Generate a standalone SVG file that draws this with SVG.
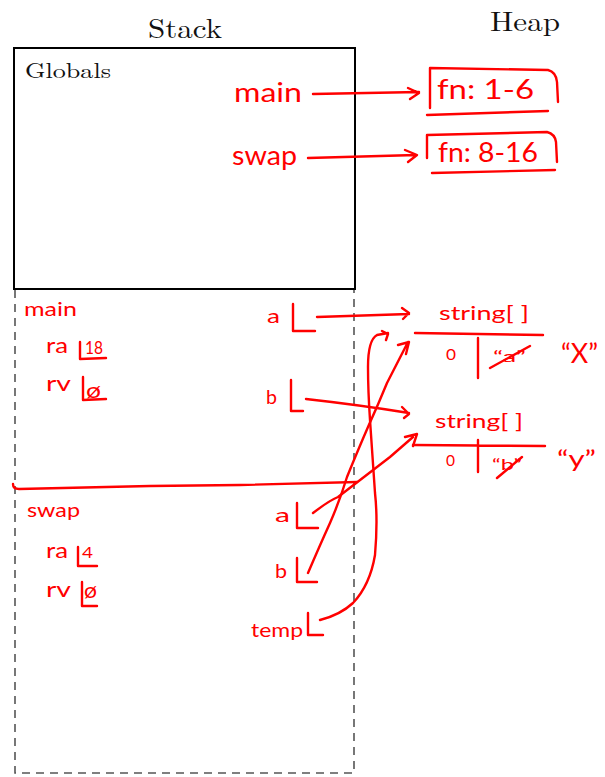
<svg xmlns="http://www.w3.org/2000/svg" width="605" height="777" viewBox="0 0 605 777">
<style>
.ttl{font-family:"Latin Modern Roman","Liberation Serif",serif;fill:#111;}
.h{font-family:"Lato","Liberation Sans",sans-serif;fill:#ff0000;}
.r{fill:none;stroke:#ff0000;stroke-width:2.4;stroke-linecap:round;stroke-linejoin:round;}
.dash{fill:none;stroke:#555;stroke-width:1.6;stroke-dasharray:8 6;}
</style>
<rect width="605" height="777" fill="#fff"/>
<g id="titles">
<text class="ttl" x="148" y="38" font-size="27" textLength="74" lengthAdjust="spacingAndGlyphs">Stack</text>
<text class="ttl" x="490" y="31" font-size="27" textLength="70" lengthAdjust="spacingAndGlyphs">Heap</text>
</g>
<g id="stack-region">
<path class="dash" d="M15,290 L15,773 L354,773 L354,290"/>
</g>
<g id="globals">
<rect x="14" y="48" width="341" height="241" fill="none" stroke="#000" stroke-width="2"/>
<text class="ttl" x="25" y="78" font-size="21" textLength="86" lengthAdjust="spacingAndGlyphs">Globals</text>
<text class="h" x="234" y="102" font-size="27" textLength="68" lengthAdjust="spacingAndGlyphs">main</text>
<text class="h" x="232" y="165" font-size="27" textLength="65" lengthAdjust="spacingAndGlyphs">swap</text>
</g>
<g id="fn-main">
<path class="r" d="M430,68 L430,108 M430,68 L548,70 Q556,72 557,82 L558,102 M427,115 L548,111"/>
<text class="h" x="437" y="99" font-size="27" textLength="97" lengthAdjust="spacingAndGlyphs">fn: 1-6</text>
</g>
<g id="fn-swap">
<path class="r" d="M427,135 L427,158 M427,135 L547,132 Q555,134 556,142 L557,162 M432,173 L555,170"/>
<text class="h" x="438" y="162" font-size="27" textLength="100" lengthAdjust="spacingAndGlyphs">fn: 8-16</text>
</g>
<g id="frame-main">
<text class="h" x="24" y="316" font-size="19" textLength="53" lengthAdjust="spacingAndGlyphs">main</text>
<text class="h" x="46" y="353" font-size="21" textLength="22" lengthAdjust="spacingAndGlyphs">ra</text>
<path class="r" d="M80,342 L80,359 L106,358"/>
<text class="h" x="85" y="354" font-size="18" textLength="18" lengthAdjust="spacingAndGlyphs">18</text>
<text class="h" x="46" y="391" font-size="21" textLength="25" lengthAdjust="spacingAndGlyphs">rv</text>
<path class="r" d="M83,377 L83,400 L106,399"/>
<text class="h" x="86" y="398" font-size="21" textLength="15" lengthAdjust="spacingAndGlyphs">ø</text>
<text class="h" x="267" y="323" font-size="20" textLength="13" lengthAdjust="spacingAndGlyphs">a</text>
<path class="r" d="M293,304 L293,331 L315,331"/>
<text class="h" x="266" y="404" font-size="20" textLength="11" lengthAdjust="spacingAndGlyphs">b</text>
<path class="r" d="M291,380 L291,411 L303,411"/>
</g>
<path class="r" d="M13,484 Q13,489 19,489 L150,486 L240,485 L357,482"/>
<g id="frame-swap">
<text class="h" x="27" y="517" font-size="19" textLength="53" lengthAdjust="spacingAndGlyphs">swap</text>
<text class="h" x="46" y="558" font-size="21" textLength="22" lengthAdjust="spacingAndGlyphs">ra</text>
<path class="r" d="M78,547 L78,566 L97,566"/>
<text class="h" x="82" y="558" font-size="16" textLength="11" lengthAdjust="spacingAndGlyphs">4</text>
<text class="h" x="46" y="597" font-size="21" textLength="25" lengthAdjust="spacingAndGlyphs">rv</text>
<path class="r" d="M82,582 L82,606 L97,606"/>
<text class="h" x="84" y="598" font-size="21" textLength="13" lengthAdjust="spacingAndGlyphs">ø</text>
<text class="h" x="275" y="522" font-size="20" textLength="15" lengthAdjust="spacingAndGlyphs">a</text>
<path class="r" d="M297,503 L297,528 L318,528"/>
<text class="h" x="275" y="578" font-size="20" textLength="12" lengthAdjust="spacingAndGlyphs">b</text>
<path class="r" d="M297,558 L297,582 L317,582"/>
<text class="h" x="251" y="637" font-size="19" textLength="52" lengthAdjust="spacingAndGlyphs">temp</text>
<path class="r" d="M308,613 L308,635 L323,635"/>
</g>
<g id="array-1">
<text class="h" x="439" y="320" font-size="19" textLength="90" lengthAdjust="spacingAndGlyphs">string[ ]</text>
<path class="r" d="M415,333 L543,335 M478,338 L478,378"/>
<text class="h" x="446" y="360" font-size="15" textLength="10" lengthAdjust="spacingAndGlyphs">0</text>
<text class="h" x="493" y="362" font-size="16" textLength="33" lengthAdjust="spacingAndGlyphs">“a”</text>
<path class="r" d="M490,368 L530,346"/>
<text class="h" x="561" y="363" font-size="26" textLength="37" lengthAdjust="spacingAndGlyphs">“X”</text>
</g>
<g id="array-2">
<text class="h" x="435" y="428" font-size="19" textLength="88" lengthAdjust="spacingAndGlyphs">string[ ]</text>
<path class="r" d="M413,445 L545,446 M478,440 L478,472"/>
<text class="h" x="446" y="466" font-size="15" textLength="9" lengthAdjust="spacingAndGlyphs">0</text>
<text class="h" x="492" y="470" font-size="16" textLength="30" lengthAdjust="spacingAndGlyphs">“b”</text>
<path class="r" d="M497,478 L522,457"/>
<text class="h" x="557" y="467" font-size="24" textLength="39" lengthAdjust="spacingAndGlyphs">“y”</text>
</g>
<g id="connectors">
<path class="r" d="M313,94 L419,92 M408,88 L419,93 L410,99"/>
<path class="r" d="M308,158 L416,155 M405,150 L417,155 L408,162"/>
<path class="r" d="M317,317 L409,314 M402,308 L409,313 L403,319"/>
<path class="r" d="M306,399 Q360,405 409,413 M402,407 L409,414 L404,418"/>
<path class="r" d="M313,513 Q330,500 338,497 Q360,480 390,457 L413,437 M405,437 L417,434 L413,446"/>
<path class="r" d="M308,573 Q320,545 330,523 Q340,500 347,477 Q358,450 368,427 Q378,405 387,383 L408,342 M398,345 L409,342 L406,354"/>
<path class="r" d="M320,620 Q340,615 353,603 Q370,585 375,555 Q378,520 375,493 Q372,450 370,420 Q368,390 368,367 Q368,340 377,335 L388,333 M382,331 L388,334 L386,340"/>
</g>
</svg>
